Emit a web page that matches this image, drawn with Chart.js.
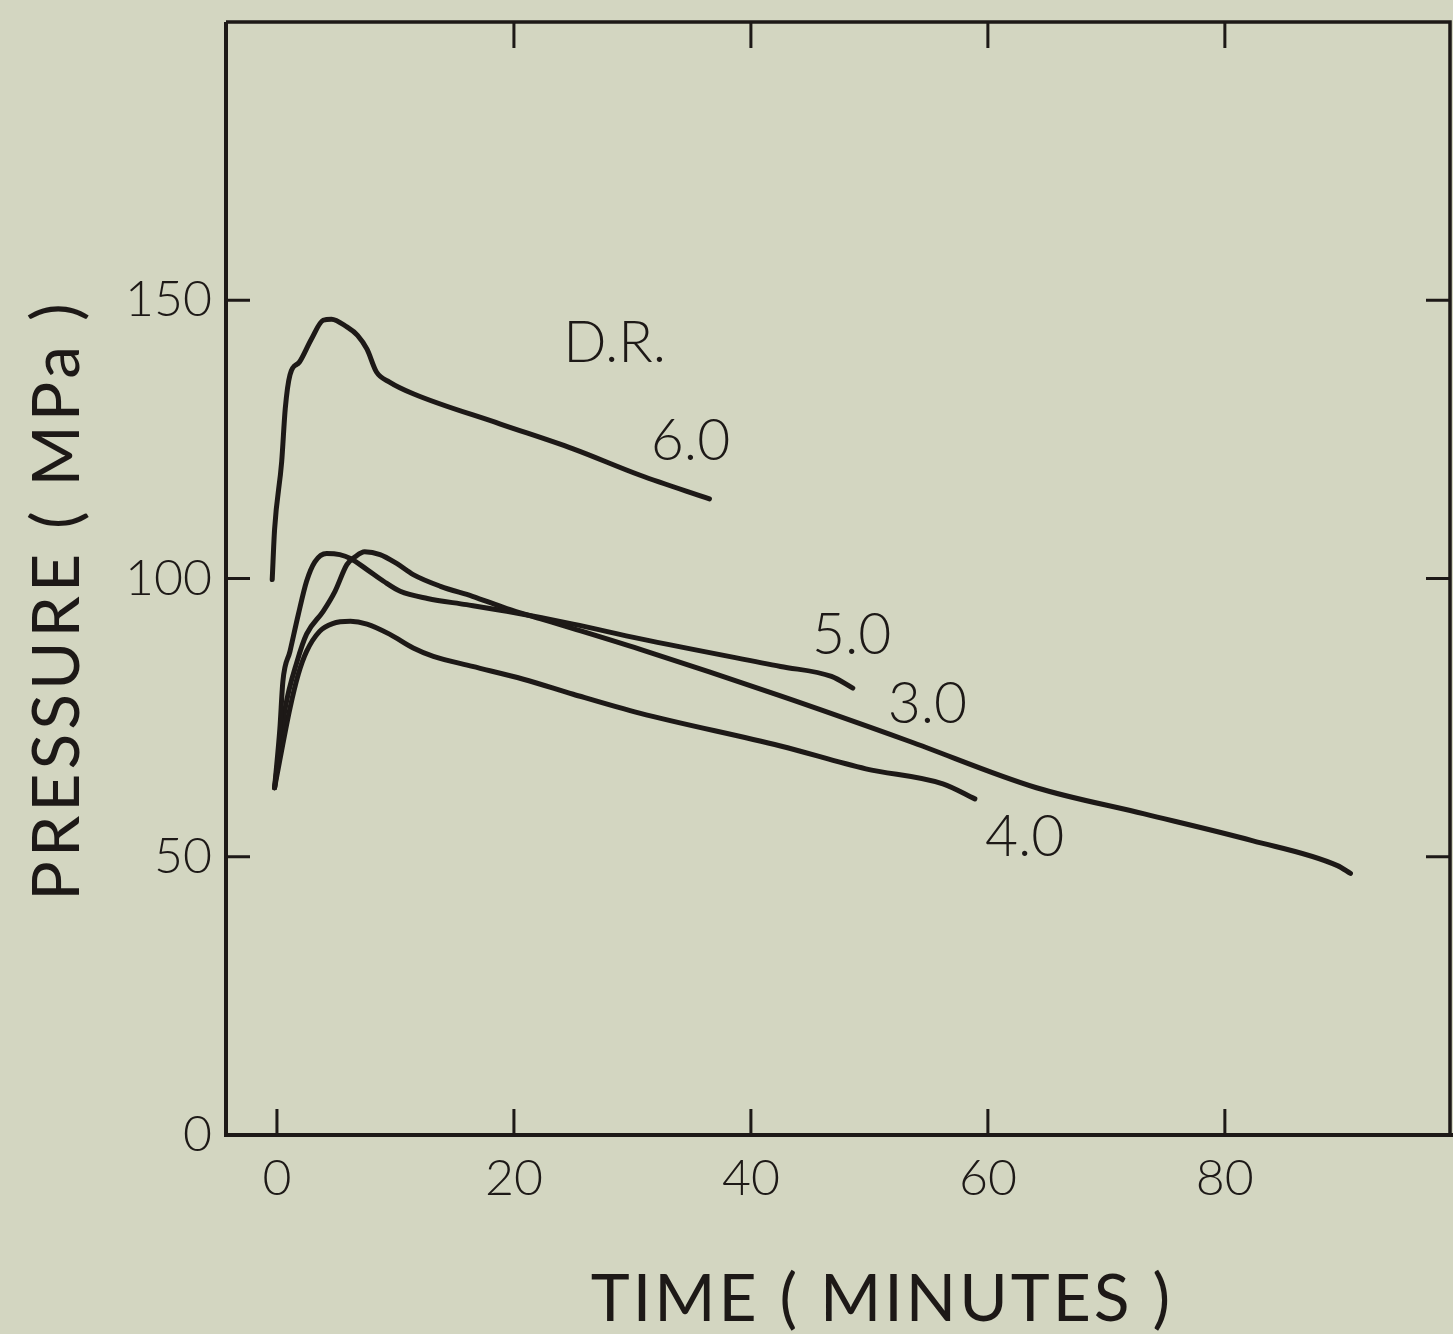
<!DOCTYPE html>
<html><head><meta charset="utf-8">
<script src="https://cdn.jsdelivr.net/npm/chart.js@4.4.1/dist/chart.umd.min.js"></script>
<style>
html,body{margin:0;padding:0;background:#d3d6c1;}
#wrap{width:1453px;height:1334px;position:relative;overflow:hidden;}
canvas{display:block;}
</style></head><body>
<div id="wrap"><canvas id="c" width="1453" height="1334"></canvas></div>
<script>
// ---- data ----
const xTicks = [0, 20, 40, 60, 80];
const yTicks = [0, 50, 100, 150];
const topTicks = [20, 40, 60, 80];
const sideTicks = [50, 100, 150];

const t60 = [-0.4, -0.2, 0.4, 0.7, 1.1, 1.9, 2.9, 3.9, 4.6, 5.9, 6.8, 7.6, 8.4, 9.5, 11.5, 18.8, 25.0, 30.6, 36.5];
const p60 = [99.8, 108.8, 121.0, 130.5, 136.6, 138.9, 143.0, 146.4, 146.6, 145.2, 143.7, 141.2, 137.1, 135.3, 133.2, 127.8, 123.3, 118.6, 114.3];

const t50 = [-0.2, 0.25, 0.5, 1.1, 1.8, 2.5, 3.2, 4.2, 5.3, 6.2, 7.6, 9.0, 10.4, 12.7, 16.0, 19.4, 25.0, 30.6, 42.5, 46.8, 48.6];
const p50 = [62.4, 73.1, 81.5, 86.9, 93.5, 99.5, 103.0, 104.5, 104.3, 103.6, 101.6, 99.5, 97.7, 96.4, 95.3, 94.1, 91.8, 89.2, 84.2, 82.4, 80.3];

const t30 = [-0.2, 0.7, 1.7, 2.5, 3.9, 4.9, 5.9, 6.6, 7.4, 8.7, 10.1, 11.5, 13.8, 16.5, 19.4, 22.2, 25.0, 30.6, 42.5, 53.3, 64.1, 73.2, 82.3, 89.5, 90.6];
const p30 = [62.4, 76.7, 85.1, 90.0, 94.1, 97.7, 102.5, 103.9, 104.8, 104.3, 102.7, 100.7, 98.6, 96.8, 94.6, 92.8, 91.0, 87.3, 78.9, 70.8, 62.4, 57.7, 52.9, 48.4, 47.0];

const t40 = [-0.2, 1.1, 1.8, 2.5, 3.6, 4.7, 6.2, 7.6, 9.5, 11.5, 13.2, 16.5, 20.8, 25.0, 30.6, 42.5, 49.7, 56.2, 58.9];
const p40 = [62.4, 76.7, 82.8, 86.9, 90.5, 91.9, 92.3, 91.8, 90.0, 87.5, 86.0, 84.2, 81.9, 79.2, 75.8, 69.9, 65.8, 63.1, 60.4];

const noteText = ['D.R.', '6.0', '5.0', '3.0', '4.0'];
const noteT = [28.5, 34.9, 48.5, 54.9, 63.1];
const noteP = [142.5, 124.9, 90.1, 77.8, 53.8];

const xTitle = 'TIME ( MINUTES )';
const yTitle = 'PRESSURE ( MPa )';

// ---- styles ----
const INK = '#1d1917';
const BG = '#d3d6c1';
const FONT = 'Lato, "Open Sans", "DejaVu Sans", sans-serif';

function pts(t, p) { return t.map((v, i) => ({x: v, y: p[i]})); }
function ds(label, t, p) {
  return {label, data: pts(t, p), showLine: true, borderColor: INK, borderWidth: 5,
    pointRadius: 0, fill: false, cubicInterpolationMode: 'monotone', borderCapStyle: 'round', borderJoinStyle: 'round'};
}

const decor = {
  id: 'decor',
  beforeDraw(chart) {
    const c = chart.ctx;
    c.save(); c.fillStyle = BG; c.fillRect(0, 0, chart.width, chart.height); c.restore();
  },
  afterDraw(chart) {
    const c = chart.ctx, a = chart.chartArea, xs = chart.scales.x, ys = chart.scales.y;
    c.save();
    c.strokeStyle = INK; c.lineCap = 'butt';
    // frame
    c.lineWidth = 3.5;
    c.beginPath();
    c.moveTo(a.left, a.top); c.lineTo(a.right, a.top); c.lineTo(a.right, a.bottom);
    c.stroke();
    c.lineWidth = 4;
    c.beginPath();
    c.moveTo(a.left, a.top); c.lineTo(a.left, a.bottom); c.lineTo(chart.width, a.bottom);
    c.stroke();
    // inward ticks
    c.lineWidth = 3;
    c.beginPath();
    xTicks.forEach(v => { const px = xs.getPixelForValue(v); c.moveTo(px, a.bottom); c.lineTo(px, a.bottom - 26); });
    topTicks.forEach(v => { const px = xs.getPixelForValue(v); c.moveTo(px, a.top); c.lineTo(px, a.top + 26); });
    sideTicks.forEach(v => { const py = ys.getPixelForValue(v); c.moveTo(a.left, py); c.lineTo(a.left + 24, py); });
    sideTicks.forEach(v => { const py = ys.getPixelForValue(v); c.moveTo(a.right, py); c.lineTo(a.right - 24, py); });
    c.stroke();
    // curve labels
    c.fillStyle = INK;
    c.font = '300 57px ' + FONT;
    c.textAlign = 'center'; c.textBaseline = 'alphabetic';
    const asc = c.measureText('0').actualBoundingBoxAscent;
    noteText.forEach((s, i) => {
      c.fillText(s, xs.getPixelForValue(noteT[i]), ys.getPixelForValue(noteP[i]) + asc / 2);
    });
    // axis titles
    c.font = '400 66px ' + FONT;
    c.letterSpacing = '3px';
    const asc2 = c.measureText('T').actualBoundingBoxAscent;
    c.fillText(xTitle, 882, 1297 + asc2 / 2);
    c.letterSpacing = '4px';
    c.translate(55, 600); c.rotate(-Math.PI / 2);
    c.fillText(yTitle, 0, asc2 / 2);
    c.restore();
  }
};

const tickFont = {family: FONT, size: 50, weight: '300'};

new Chart(document.getElementById('c'), {
  type: 'scatter',
  data: {datasets: [ds('6.0', t60, p60), ds('5.0', t50, p50), ds('3.0', t30, p30), ds('4.0', t40, p40)]},
  options: {
    responsive: false, animation: false, devicePixelRatio: 1,
    layout: {padding: {left: 0, right: 3, top: 22, bottom: 0}},
    plugins: {legend: {display: false}, tooltip: {enabled: false}},
    scales: {
      x: {
        type: 'linear', position: 'bottom', min: -4.3, max: 99,
        afterBuildTicks: s => { s.ticks = xTicks.map(v => ({value: v})); },
        afterFit: s => { s.height = 199; s.paddingLeft = 0; s.paddingRight = 0; },
        grid: {display: false, drawTicks: false}, border: {display: false},
        ticks: {font: tickFont, color: INK, padding: 14, maxRotation: 0, autoSkip: false}
      },
      y: {
        type: 'linear', position: 'left', min: 0, max: 200,
        afterBuildTicks: s => { s.ticks = yTicks.map(v => ({value: v})); },
        afterFit: s => { s.width = 226; s.paddingTop = 0; s.paddingBottom = 0; },
        grid: {display: false, drawTicks: false}, border: {display: false},
        ticks: {font: tickFont, color: INK, padding: 14, autoSkip: false}
      }
    }
  },
  plugins: [decor]
});
</script>
</body></html>
